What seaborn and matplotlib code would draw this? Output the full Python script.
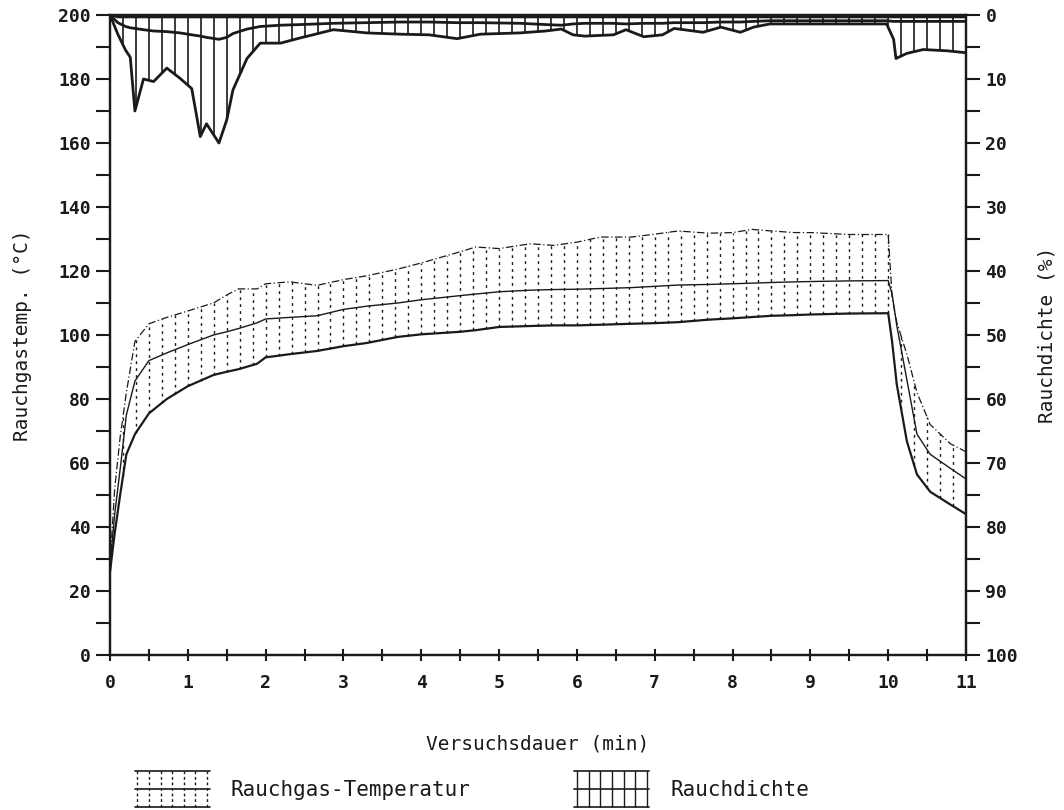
import numpy as np
import pandas as pd
import matplotlib
matplotlib.use('Agg')
import matplotlib.pyplot as plt
import seaborn as sns
from matplotlib.legend_handler import HandlerBase
from matplotlib.lines import Line2D
from matplotlib.patches import Patch

# Rauchgas-Temperatur (°C): oberer Wert, Mittelwert, unterer Wert
temp_t = [0, 0.06, 0.13, 0.21, 0.32, 0.5, 0.73, 1.0, 1.33, 1.5,
          1.65, 1.89, 2.0, 2.31, 2.66, 3.0, 3.3, 3.7, 4.0, 4.5,
          4.7, 5.0, 5.4, 5.7, 6.0, 6.3, 6.7, 7.0, 7.3, 7.7,
          8.0, 8.25, 8.5, 8.8, 9.0, 9.5, 10.0, 10.05, 10.11, 10.24,
          10.37, 10.54, 10.8, 11.0]
temp_oben = [28, 52, 68, 82, 98, 103.5, 105.5, 107.5, 110, 112.5,
             114.4, 114.4, 116, 116.6, 115.5, 117.3, 118.5, 120.6, 122.5, 126,
             127.5, 127, 128.5, 128, 129, 130.6, 130.6, 131.5, 132.5, 131.8,
             132, 133, 132.5, 132, 132, 131.4, 131.4, 112, 104, 94,
             82, 72, 66, 63.5]
temp_mittel = [28, 44, 58, 75, 85.6, 92, 94.4, 97, 100, 101,
               102, 103.8, 105, 105.5, 106, 108, 109, 110, 111, 112.3,
               112.8, 113.5, 114, 114.2, 114.3, 114.5, 114.8, 115.2, 115.6, 115.8,
               116, 116.2, 116.4, 116.6, 116.7, 116.9, 117, 112.8, 103, 86,
               69, 62.7, 58.3, 55]
temp_unten = [26, 38, 50, 62.7, 69, 75.5, 80, 84, 87.5, 88.5,
              89.3, 91, 93, 94, 95, 96.5, 97.5, 99.4, 100.2, 101,
              101.5, 102.5, 102.8, 103, 103, 103.2, 103.5, 103.7, 104, 104.8,
              105.2, 105.6, 106, 106.2, 106.4, 106.7, 106.8, 98, 84.6, 66.8,
              56.4, 51, 47, 44]

# Rauchdichte (%): Minimum, Mittelwert, Maximum
rauch_t = [0, 0.1, 0.2, 0.26, 0.32, 0.43, 0.56, 0.73, 0.9, 1.05,
           1.16, 1.24, 1.4, 1.5, 1.58, 1.76, 1.93, 2.19, 2.44, 2.87,
           3.3, 3.73, 4.1, 4.46, 4.76, 5.27, 5.6, 5.8, 5.95, 6.1,
           6.47, 6.63, 6.86, 7.1, 7.25, 7.62, 7.85, 8.1, 8.27, 8.48,
           8.9, 9.5, 9.98, 10.07, 10.1, 10.24, 10.45, 10.76, 11.0]
rauch_max = [0, 3, 5.5, 6.6, 15, 10, 10.4, 8.3, 9.9, 11.5,
             19, 17, 20, 16.4, 11.7, 6.8, 4.4, 4.4, 3.6, 2.3,
             2.8, 3.0, 3.1, 3.7, 3.0, 2.8, 2.5, 2.2, 3.1, 3.3,
             3.1, 2.3, 3.4, 3.1, 2.1, 2.7, 1.9, 2.7, 1.9, 1.4,
             1.4, 1.4, 1.4, 3.8, 6.8, 6.0, 5.4, 5.6, 5.9]
rauch_mittel = [0, 1.2, 1.8, 2.0, 2.1, 2.3, 2.5, 2.6, 2.8, 3.1,
                3.3, 3.5, 3.8, 3.5, 2.9, 2.2, 1.8, 1.6, 1.5, 1.3,
                1.2, 1.1, 1.1, 1.2, 1.2, 1.3, 1.5, 1.6, 1.4, 1.3,
                1.3, 1.4, 1.3, 1.3, 1.2, 1.2, 1.1, 1.1, 1.0, 0.9,
                0.9, 0.9, 0.9, 1.0, 1.0, 1.0, 1.0, 1.0, 1.0]
rauch_min = [0] + [0.3] * 48

temp = pd.DataFrame({'t': temp_t, 'oben': temp_oben,
                     'mittel': temp_mittel, 'unten': temp_unten})
rauch = pd.DataFrame({'t': rauch_t, 'max': rauch_max,
                      'mittel': rauch_mittel, 'min': rauch_min})

sns.set_theme(style='ticks')
plt.rcParams['font.family'] = ['DejaVu Sans Mono']
plt.rcParams.update({'text.color': 'k', 'axes.labelcolor': 'k',
                     'xtick.color': 'k', 'ytick.color': 'k'})

fig = plt.figure(figsize=(10.64, 8.10), dpi=100)
ax = fig.add_axes([0.1034, 0.1914, 0.8045, 0.7901])
ax2 = ax.twinx()

# Schraffur: Messraster alle 10 s
raster = np.arange(1, 66) / 6
ax.vlines(raster, np.interp(raster, temp['t'], temp['unten']),
          np.interp(raster, temp['t'], temp['oben']),
          colors='k', linestyles=(0, (2, 3)), lw=1)
ax2.vlines(raster, np.interp(raster, rauch['t'], rauch['min']),
           np.interp(raster, rauch['t'], rauch['max']),
           colors='k', lw=1.2)

sns.lineplot(data=temp, x='t', y='oben', ax=ax, color='k', lw=0.9,
             linestyle=(0, (6, 2, 1, 2)))
sns.lineplot(data=temp, x='t', y='mittel', ax=ax, color='k', lw=1.0)
sns.lineplot(data=temp, x='t', y='unten', ax=ax, color='k', lw=1.6)

sns.lineplot(data=rauch, x='t', y='max', ax=ax2, color='k', lw=2.0)
sns.lineplot(data=rauch, x='t', y='mittel', ax=ax2, color='k', lw=2.0)
sns.lineplot(data=rauch, x='t', y='min', ax=ax2, color='k', lw=2.0)

ax.set_xlim(0, 11)
ax.set_ylim(0, 200)
ax2.set_ylim(100, 0)

ax.set_xticks(range(12))
ax.set_xticks(np.arange(0.5, 11, 1), minor=True)
ax.set_yticks(range(0, 201, 20))
ax.set_yticks(range(10, 200, 20), minor=True)
ax2.set_yticks(range(0, 101, 10))
ax2.set_yticks(range(5, 100, 10), minor=True)

ax.tick_params(axis='x', which='both', direction='inout', length=8, width=1.5,
               labelsize=13, pad=10)
ax.tick_params(axis='y', which='both', direction='out', length=10, width=1.5,
               labelsize=13, pad=4)
ax2.tick_params(axis='y', which='both', direction='out', length=10, width=1.5,
                labelsize=13, pad=4)
for a in (ax, ax2):
    for lab in a.get_xticklabels() + a.get_yticklabels():
        lab.set_fontweight('bold')
    for s in a.spines.values():
        s.set_linewidth(1.6)
        s.set_color('k')

ax.set_xlabel('Versuchsdauer (min)', fontsize=14, labelpad=30)
ax.set_ylabel('Rauchgastemp. (°C)', fontsize=14, labelpad=19)
ax2.set_ylabel('Rauchdichte (%)', fontsize=14, labelpad=14, rotation=90)


class Raster(HandlerBase):
    def __init__(self, stil):
        super().__init__()
        self.stil = stil

    def create_artists(self, legend, orig_handle, xdescent, ydescent,
                       width, height, fontsize, trans):
        x0, y0 = -xdescent, -ydescent
        arts = []
        for y in (y0, y0 + height / 2, y0 + height):
            arts.append(Line2D([x0, x0 + width], [y, y], color='k', lw=1.2,
                               transform=trans))
        for x in np.linspace(x0 + 2, x0 + width - 2, 7):
            arts.append(Line2D([x, x], [y0, y0 + height], color='k', lw=1,
                               ls=self.stil, transform=trans))
        return arts


h_temp = Patch(label='Rauchgas-Temperatur')
h_rauch = Patch(label='Rauchdichte')
fig.legend(handles=[h_temp, h_rauch], ncol=2, frameon=False,
           loc='upper left', bbox_to_anchor=(0.1167, 0.061),
           fontsize=15, handlelength=3.6, handleheight=2.3,
           handletextpad=1.0, columnspacing=5.0, borderpad=0,
           handler_map={h_temp: Raster((0, (2, 2))), h_rauch: Raster('-')})

fig.savefig('out.png', dpi=100)
